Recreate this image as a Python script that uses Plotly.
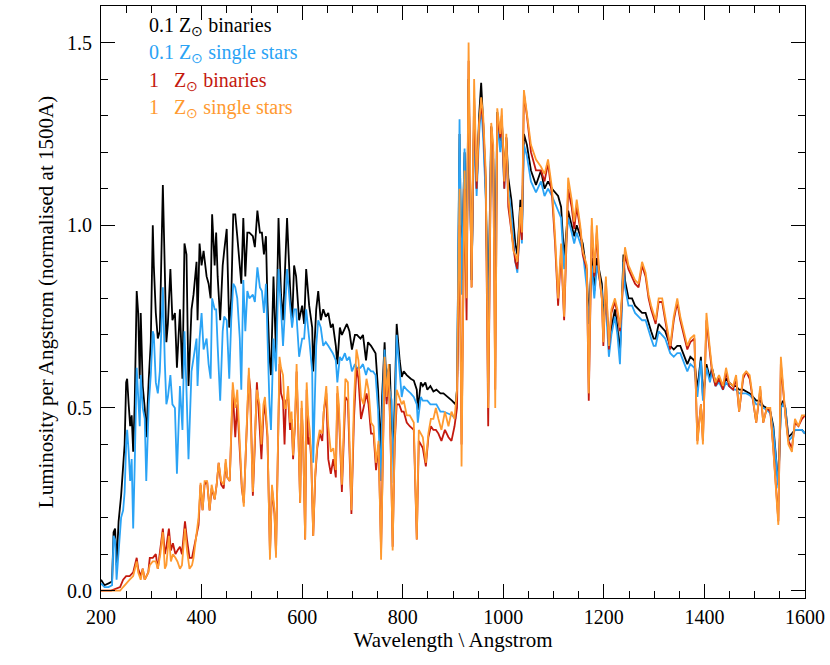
import plotly.graph_objects as go

# --- short-wavelength part, 0.1 Zsun models (black = binaries, blue = single stars)
wl_lo_z01 = [200, 207, 215, 222, 225, 228, 231, 235, 240, 244, 247, 250, 252, 255, 258, 261, 264, 267,
             271, 274, 277, 279, 283, 287, 290, 295, 299, 303, 305, 309, 313, 317, 323, 327, 330, 333,
             338, 342, 347, 351, 357, 362, 366, 370, 374, 380, 384, 390, 392, 396, 400, 404, 410, 414,
             418, 421, 426, 429, 432, 437, 442, 445, 450, 455, 459, 463, 467, 471, 476, 479, 483, 487,
             491, 495, 502, 506, 511, 516, 520, 524, 528, 531, 535, 538, 543, 548, 553, 558, 562, 566,
             570, 576, 580, 584, 588, 594, 600, 604, 608, 614, 620, 622, 628, 632, 637, 642, 647, 652,
             657, 661, 667, 670, 675, 679, 685, 689, 694, 699, 705, 709, 716, 721, 727, 731, 737, 741,
             746, 751, 756, 759, 764, 768, 771, 774, 778, 782, 788, 794, 798, 802, 808, 816, 822, 828,
             830, 836, 840, 845, 849, 855, 861, 867, 875, 881, 890, 898, 905]
bin_z01_lo = [0.03, 0.015, 0.02, 0.025, 0.16, 0.17, 0.07, 0.19, 0.26, 0.33, 0.40, 0.57, 0.58, 0.51, 0.45,
              0.48, 0.38, 0.51, 0.82, 0.76, 0.58, 0.76, 0.56, 0.50, 0.42, 0.58, 0.68, 1.00, 0.89, 0.76,
              0.69, 0.71, 1.11, 0.87, 0.68, 0.73, 0.88, 0.74, 0.76, 0.61, 0.77, 0.58, 0.95, 0.92, 0.56,
              0.77, 0.81, 0.90, 0.74, 0.95, 0.89, 0.93, 0.86, 0.84, 0.80, 1.03, 0.89, 0.98, 0.86, 0.74,
              0.89, 0.93, 0.99, 0.72, 0.80, 1.03, 1.03, 0.97, 0.89, 0.84, 1.02, 0.86, 0.98, 0.98, 0.97,
              0.94, 1.04, 0.98, 0.98, 0.92, 0.97, 0.79, 0.64, 0.59, 0.86, 0.65, 1.02, 0.81, 0.74, 0.89,
              1.02, 0.83, 0.73, 0.89, 0.86, 0.74, 0.78, 0.73, 0.88, 0.78, 0.72, 0.60, 0.77, 0.82, 0.74,
              0.77, 0.75, 0.76, 0.72, 0.73, 0.67, 0.62, 0.72, 0.70, 0.72, 0.73, 0.71, 0.66, 0.70, 0.70,
              0.69, 0.70, 0.63, 0.68, 0.67, 0.66, 0.65, 0.55, 0.385, 0.53, 0.68, 0.55, 0.60, 0.62, 0.45,
              0.40, 0.73, 0.63, 0.585, 0.60, 0.59, 0.58, 0.575, 0.55, 0.495, 0.57, 0.56, 0.57, 0.55,
              0.56, 0.545, 0.55, 0.54, 0.54, 0.53, 0.52, 0.51]
sgl_z01_lo = [0.02, 0.01, 0.01, 0.015, 0.15, 0.14, 0.03, 0.12, 0.20, 0.22, 0.27, 0.40, 0.44, 0.38, 0.30,
              0.36, 0.17, 0.34, 0.61, 0.53, 0.45, 0.59, 0.50, 0.47, 0.30, 0.51, 0.59, 0.71, 0.70, 0.57,
              0.54, 0.60, 0.83, 0.62, 0.51, 0.53, 0.59, 0.51, 0.50, 0.32, 0.56, 0.44, 0.71, 0.55, 0.36,
              0.60, 0.64, 0.69, 0.56, 0.69, 0.76, 0.66, 0.69, 0.62, 0.58, 0.80, 0.77, 0.77, 0.67, 0.52,
              0.71, 0.75, 0.74, 0.58, 0.74, 0.84, 0.83, 0.80, 0.69, 0.55, 0.85, 0.71, 0.82, 0.80, 0.81,
              0.79, 0.885, 0.83, 0.82, 0.76, 0.84, 0.69, 0.51, 0.44, 0.69, 0.60, 0.88, 0.77, 0.67, 0.77,
              0.88, 0.78, 0.72, 0.77, 0.77, 0.64, 0.69, 0.69, 0.77, 0.69, 0.60, 0.35, 0.67, 0.74, 0.72,
              0.67, 0.68, 0.67, 0.66, 0.65, 0.63, 0.57, 0.64, 0.63, 0.65, 0.63, 0.64, 0.60, 0.62, 0.61,
              0.61, 0.62, 0.59, 0.61, 0.60, 0.60, 0.59, 0.495, 0.30, 0.48, 0.66, 0.52, 0.60, 0.55, 0.52,
              0.295, 0.70, 0.61, 0.53, 0.56, 0.55, 0.54, 0.53, 0.51, 0.46, 0.53, 0.52, 0.52, 0.52,
              0.51, 0.51, 0.51, 0.49, 0.49, 0.485, 0.48, 0.47]

# --- short-wavelength part, 1 Zsun models (red = binaries, orange = single stars)
wl_lo_z1 = [200, 220, 238, 244, 250, 257, 264, 271, 274, 279, 283, 287, 294, 297, 303, 309, 313, 318,
            323, 327, 330, 335, 339, 343, 348, 352, 357, 361, 367, 371, 376, 381, 384, 389, 394, 398,
            402, 406, 411, 416, 420, 426, 430, 434, 439, 444, 448, 451, 456, 462, 467, 471, 476, 480,
            484, 489, 494, 497, 502, 506, 510, 515, 519, 523, 526, 531, 536, 540, 545, 548, 551, 555,
            558, 562, 565, 568, 572, 576, 579, 582, 586, 589, 592, 596, 599, 602, 606, 609, 612, 615,
            618, 622, 626, 630, 635, 640, 643, 648, 652, 657, 662, 667, 670, 673, 679, 683, 686, 691,
            695, 698, 703, 708, 712, 717, 722, 728, 732, 737, 742, 747, 752, 757, 761, 764, 768, 772,
            776, 780, 784, 788, 793, 798, 802, 808, 814, 822, 828, 832, 840, 846, 851, 856, 861, 866,
            871, 877, 884, 891, 897, 903]
bin_z1_lo = [0.0, 0.0, 0.01, 0.03, 0.04, 0.04, 0.05, 0.09, 0.06, 0.04, 0.06, 0.03, 0.05, 0.09, 0.09, 0.10,
             0.06, 0.12, 0.17, 0.10, 0.12, 0.17, 0.11, 0.13, 0.10, 0.11, 0.12, 0.10, 0.19, 0.14, 0.09,
             0.09, 0.11, 0.14, 0.18, 0.29, 0.22, 0.29, 0.30, 0.22, 0.28, 0.25, 0.29, 0.35, 0.29, 0.28,
             0.35, 0.31, 0.30, 0.55, 0.42, 0.51, 0.39, 0.28, 0.24, 0.42, 0.59, 0.55, 0.26, 0.40, 0.57,
             0.46, 0.36, 0.48, 0.51, 0.42, 0.10, 0.28, 0.21, 0.10, 0.31, 0.62, 0.54, 0.52, 0.40, 0.52,
             0.53, 0.44, 0.47, 0.36, 0.46, 0.60, 0.46, 0.24, 0.50, 0.41, 0.14, 0.55, 0.40, 0.42, 0.36,
             0.15, 0.31, 0.39, 0.43, 0.41, 0.49, 0.54, 0.36, 0.32, 0.36, 0.31, 0.54, 0.49, 0.27, 0.44,
             0.53, 0.52, 0.36, 0.21, 0.47, 0.61, 0.58, 0.47, 0.50, 0.54, 0.51, 0.43, 0.43, 0.33, 0.40,
             0.11, 0.40, 0.62, 0.51, 0.60, 0.40, 0.12, 0.40, 0.51, 0.51, 0.49, 0.49, 0.46, 0.45, 0.44,
             0.14, 0.41, 0.39, 0.34, 0.42, 0.45, 0.44, 0.44, 0.43, 0.41, 0.44, 0.42, 0.41, 0.45]
sgl_z1_lo = [0.0, 0.0, 0.0, 0.01, 0.02, 0.03, 0.04, 0.08, 0.05, 0.03, 0.06, 0.03, 0.05, 0.07, 0.08, 0.08,
             0.06, 0.10, 0.16, 0.06, 0.07, 0.15, 0.08, 0.10, 0.09, 0.08, 0.06, 0.07, 0.17, 0.11, 0.06,
             0.07, 0.09, 0.14, 0.20, 0.295, 0.22, 0.30, 0.30, 0.22, 0.29, 0.25, 0.29, 0.35, 0.30, 0.29,
             0.36, 0.31, 0.30, 0.57, 0.50, 0.55, 0.39, 0.29, 0.23, 0.43, 0.61, 0.50, 0.27, 0.42, 0.55,
             0.51, 0.40, 0.51, 0.53, 0.43, 0.085, 0.29, 0.22, 0.09, 0.32, 0.64, 0.61, 0.59, 0.50, 0.50,
             0.56, 0.46, 0.49, 0.37, 0.47, 0.62, 0.46, 0.24, 0.52, 0.42, 0.14, 0.57, 0.48, 0.44, 0.37,
             0.15, 0.32, 0.40, 0.44, 0.43, 0.49, 0.56, 0.45, 0.38, 0.39, 0.33, 0.56, 0.51, 0.29, 0.45,
             0.58, 0.57, 0.38, 0.22, 0.52, 0.66, 0.63, 0.53, 0.51, 0.58, 0.55, 0.46, 0.45, 0.35, 0.41,
             0.085, 0.41, 0.64, 0.53, 0.62, 0.41, 0.11, 0.41, 0.55, 0.53, 0.51, 0.52, 0.48, 0.48, 0.46,
             0.14, 0.44, 0.42, 0.35, 0.43, 0.47, 0.47, 0.50, 0.47, 0.44, 0.49, 0.45, 0.49, 0.47]

# --- long-wavelength part, shared wavelength grid for all four models
wl_hi = [908, 913, 917, 923, 927, 931, 937, 942, 947, 952, 956, 960, 965, 970, 976, 980, 984, 988, 994,
         997, 1002, 1006, 1010, 1016, 1020, 1024, 1028, 1034, 1037, 1041, 1047, 1055, 1065, 1075, 1082,
         1089, 1097, 1103, 1109, 1115, 1121, 1129, 1136, 1141, 1146, 1153, 1158, 1166, 1170, 1176, 1181,
         1186, 1190, 1196, 1199, 1204, 1210, 1215, 1222, 1227, 1232, 1239, 1242, 1249, 1256, 1262, 1269,
         1276, 1283, 1289, 1294, 1299, 1303, 1309, 1316, 1322, 1327, 1332, 1339, 1346, 1352, 1360, 1366,
         1372, 1380, 1386, 1393, 1397, 1404, 1411, 1415, 1422, 1429, 1437, 1443, 1449, 1457, 1463, 1469,
         1477, 1483, 1490, 1497, 1503, 1511, 1517, 1524, 1531, 1537, 1543, 1547, 1552, 1556, 1561, 1567,
         1574, 1580, 1587, 1594, 1600]
bin_z01_hi = [0.55, 1.25, 0.85, 1.20, 0.90, 1.40, 0.85, 1.30, 1.10, 1.30, 1.39, 1.28, 1.10, 0.75, 1.27,
              1.18, 0.85, 1.31, 1.23, 1.29, 1.13, 1.24, 1.13, 1.07, 1.01, 0.95, 0.92, 1.07, 0.98, 1.25,
              1.22, 1.15, 1.11, 1.15, 1.10, 1.12, 1.10, 1.09, 1.08, 1.05, 0.91, 1.04, 1.00, 0.97, 1.00,
              0.97, 0.95, 0.87, 0.74, 0.91, 0.82, 0.91, 0.88, 0.84, 0.76, 0.80, 0.68, 0.72, 0.77, 0.72,
              0.65, 0.92, 0.85, 0.80, 0.80, 0.78, 0.77, 0.76, 0.76, 0.73, 0.71, 0.69, 0.69, 0.73, 0.72,
              0.71, 0.69, 0.67, 0.66, 0.67, 0.67, 0.64, 0.62, 0.64, 0.63, 0.55, 0.64, 0.53, 0.62, 0.58,
              0.61, 0.57, 0.58, 0.56, 0.58, 0.57, 0.56, 0.56, 0.55, 0.55, 0.545, 0.54, 0.53, 0.52, 0.52,
              0.505, 0.50, 0.49, 0.45, 0.36, 0.29, 0.50, 0.52, 0.50, 0.42, 0.43, 0.44, 0.44, 0.44, 0.43]
sgl_z01_hi = [0.55, 1.29, 0.81, 1.21, 0.85, 1.38, 0.85, 1.28, 1.08, 1.25, 1.33, 1.24, 1.08, 0.70, 1.24,
              1.15, 0.80, 1.28, 1.20, 1.26, 1.10, 1.21, 1.10, 1.03, 0.97, 0.90, 0.87, 1.04, 0.95, 1.22,
              1.19, 1.12, 1.09, 1.12, 1.08, 1.10, 1.08, 1.06, 1.04, 1.02, 0.88, 1.02, 0.98, 0.95, 0.98,
              0.95, 0.93, 0.83, 0.73, 0.89, 0.80, 0.89, 0.86, 0.82, 0.74, 0.78, 0.64, 0.70, 0.75, 0.70,
              0.62, 0.90, 0.83, 0.78, 0.78, 0.76, 0.75, 0.74, 0.74, 0.71, 0.69, 0.67, 0.67, 0.71, 0.70,
              0.69, 0.67, 0.65, 0.64, 0.65, 0.65, 0.62, 0.60, 0.62, 0.61, 0.53, 0.63, 0.52, 0.61, 0.57,
              0.60, 0.56, 0.57, 0.55, 0.57, 0.56, 0.55, 0.55, 0.54, 0.54, 0.54, 0.535, 0.525, 0.51, 0.51,
              0.50, 0.495, 0.485, 0.44, 0.35, 0.28, 0.50, 0.51, 0.50, 0.41, 0.42, 0.44, 0.44, 0.44, 0.43]
bin_z1_hi = [0.50, 1.00, 0.40, 1.10, 0.74, 1.45, 0.83, 1.35, 1.10, 1.28, 1.33, 1.28, 1.13, 0.45, 1.27,
             1.20, 0.55, 1.30, 1.24, 1.30, 1.10, 1.24, 1.05, 0.98, 0.95, 0.90, 0.88, 1.02, 0.96, 1.36,
             1.30, 1.20, 1.15, 1.15, 1.12, 1.17, 1.08, 0.95, 0.78, 0.93, 0.74, 1.10, 1.05, 0.99, 1.05,
             0.99, 0.92, 0.88, 0.52, 1.00, 0.86, 0.98, 0.87, 0.80, 0.67, 0.85, 0.66, 0.76, 0.79, 0.76,
             0.71, 0.87, 0.92, 0.88, 0.86, 0.84, 0.83, 0.89, 0.86, 0.80, 0.77, 0.75, 0.73, 0.79, 0.79,
             0.74, 0.70, 0.66, 0.74, 0.79, 0.74, 0.69, 0.66, 0.68, 0.69, 0.41, 0.51, 0.41, 0.74, 0.65,
             0.60, 0.56, 0.58, 0.55, 0.60, 0.56, 0.55, 0.58, 0.49, 0.58, 0.60, 0.58, 0.52, 0.46, 0.55,
             0.46, 0.50, 0.49, 0.39, 0.25, 0.19, 0.62, 0.55, 0.48, 0.41, 0.39, 0.46, 0.45, 0.47, 0.48]
sgl_z1_hi = [0.55, 1.10, 0.34, 1.15, 0.80, 1.50, 0.83, 1.40, 1.12, 1.28, 1.35, 1.30, 1.15, 0.50, 1.28,
             1.22, 0.50, 1.32, 1.25, 1.32, 1.12, 1.25, 1.08, 1.00, 0.93, 0.92, 0.90, 1.05, 0.98, 1.37,
             1.31, 1.22, 1.18, 1.16, 1.14, 1.18, 1.10, 0.97, 0.80, 0.95, 0.75, 1.13, 1.07, 1.01, 1.07,
             1.00, 0.93, 0.89, 0.54, 1.02, 0.87, 1.00, 0.88, 0.80, 0.68, 0.86, 0.67, 0.77, 0.80, 0.77,
             0.72, 0.88, 0.94, 0.89, 0.87, 0.85, 0.84, 0.90, 0.87, 0.81, 0.78, 0.76, 0.74, 0.80, 0.80,
             0.75, 0.71, 0.67, 0.75, 0.80, 0.75, 0.70, 0.67, 0.69, 0.70, 0.40, 0.51, 0.40, 0.76, 0.66,
             0.61, 0.57, 0.59, 0.56, 0.61, 0.57, 0.56, 0.59, 0.49, 0.59, 0.60, 0.59, 0.52, 0.46, 0.56,
             0.46, 0.50, 0.50, 0.385, 0.25, 0.18, 0.64, 0.56, 0.48, 0.40, 0.38, 0.47, 0.45, 0.48, 0.48]

series = [
    ("0.1 Z<sub>\u2299</sub> binaries", wl_lo_z01, bin_z01_lo, bin_z01_hi, "#000000"),
    ("0.1 Z<sub>\u2299</sub> single stars", wl_lo_z01, sgl_z01_lo, sgl_z01_hi, "#2aa3f5"),
    ("1\u00a0\u00a0\u00a0Z<sub>\u2299</sub> binaries", wl_lo_z1, bin_z1_lo, bin_z1_hi, "#c4190e"),
    ("1\u00a0\u00a0\u00a0Z<sub>\u2299</sub> single stars", wl_lo_z1, sgl_z1_lo, sgl_z1_hi, "#ff9a30"),
]

FONT = "Liberation Serif, Times New Roman, serif"

fig = go.Figure()
for i, (label, wl_lo, y_lo, y_hi, color) in enumerate(series):
    fig.add_trace(go.Scatter(x=wl_lo + wl_hi, y=y_lo + y_hi, mode="lines",
                             line=dict(color=color, width=1.8), showlegend=False))
    fig.add_annotation(x=0.066, y=0.966 - i * 0.0465, xref="paper", yref="paper",
                       xanchor="left", yanchor="middle", showarrow=False, text=label,
                       font=dict(family=FONT, size=20, color=color))

axis_common = dict(showline=True, linecolor="black", linewidth=1.2, mirror="ticks",
                   ticks="inside", ticklen=14, tickwidth=1.2, tickcolor="black",
                   showgrid=False, zeroline=False,
                   tickfont=dict(family=FONT, size=20, color="black"))

fig.update_xaxes(range=[200, 1600], dtick=200, tick0=200, ticklabelstandoff=1,
                 minor=dict(dtick=50, ticks="inside", ticklen=7, tickcolor="black", tickwidth=1.2),
                 title=dict(text="Wavelength \\ Angstrom", standoff=2,
                            font=dict(family=FONT, size=21, color="black")),
                 **axis_common)
fig.update_yaxes(range=[-0.02, 1.6], dtick=0.5, tick0=0, tickformat=".1f", ticklabelstandoff=4,
                 minor=dict(dtick=0.1, ticks="inside", ticklen=7, tickcolor="black", tickwidth=1.2),
                 title=dict(text="Luminosity per Angstrom (normalised at 1500A)", standoff=7,
                            font=dict(family=FONT, size=21, color="black")),
                 **axis_common)

fig.update_layout(width=830, height=665, plot_bgcolor="white", paper_bgcolor="white",
                  margin=dict(l=101, r=22, t=5, b=67))
# the page body has a default 8px margin; drop it so the figure sits at the window's corner
fig.write_html("out.html", config={"displayModeBar": False},
               post_script="document.body.style.margin='0';")
